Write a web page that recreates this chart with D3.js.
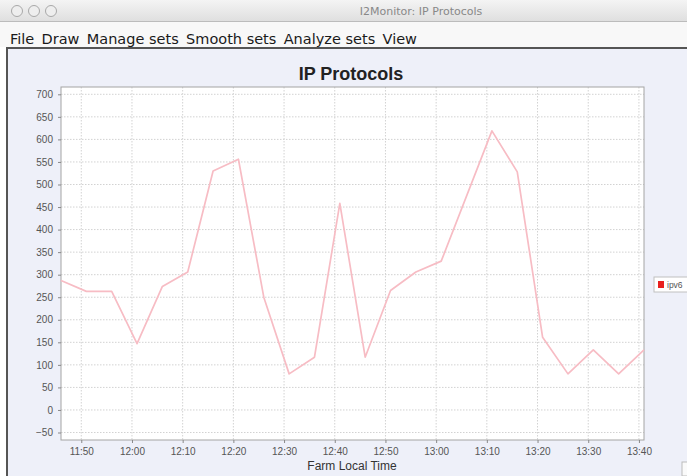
<!DOCTYPE html>
<html>
<head>
<meta charset="utf-8">
<script src="https://cdn.jsdelivr.net/npm/d3@7"></script>
<style>
  html, body { margin: 0; padding: 0; background: #fff; }
  svg { display: block; font-family: "Liberation Sans", Arial, sans-serif; }
</style>
</head>
<body>
<svg id="chart" width="687" height="476"></svg>
<script>
// ===== data =====
const times = ['11:46', '11:51', '11:56', '12:01', '12:06', '12:11', '12:16', '12:21',
  '12:26', '12:31', '12:36', '12:41', '12:46', '12:51', '12:56', '13:01',
  '13:11', '13:16', '13:21', '13:26', '13:31', '13:36', '13:41'];
const ipv6 = [287, 263, 263, 147, 274, 306, 530, 556,
  250, 80, 117, 458, 117, 265, 306, 330,
  619, 528, 161, 80, 133, 80, 133];
const yTicks = [-50, 0, 50, 100, 150, 200, 250, 300, 350, 400, 450, 500, 550, 600, 650, 700];
const xTickLabels = ['11:50', '12:00', '12:10', '12:20', '12:30', '12:40', '12:50',
  '13:00', '13:10', '13:20', '13:30', '13:40'];
const menuItems = ['File', 'Draw', 'Manage sets', 'Smooth sets', 'Analyze sets', 'View'];
const seriesNames = ['ipv6'];

const W = 687, H = 476;
const parse = d3.timeParse('%H:%M');
const points = times.map((t, i) => ({ t: parse(t), v: ipv6[i] }));

const svg = d3.select('#chart');

// --- window chrome ---
const defs = svg.append('defs');
const tg = defs.append('linearGradient').attr('id', 'titlebar').attr('x1', 0).attr('y1', 0).attr('x2', 0).attr('y2', 1);
tg.append('stop').attr('offset', '0%').attr('stop-color', '#f4f4f4');
tg.append('stop').attr('offset', '100%').attr('stop-color', '#dedede');

svg.append('rect').attr('width', W).attr('height', H).attr('fill', '#ffffff');
svg.append('rect').attr('width', W).attr('height', 22).attr('fill', 'url(#titlebar)');
svg.append('line').attr('x1', 0).attr('x2', W).attr('y1', 21.5).attr('y2', 21.5).attr('stroke', '#bcbcbc');
[17, 34, 51].forEach(cx => {
  svg.append('circle').attr('cx', cx).attr('cy', 11).attr('r', 5.5)
    .attr('fill', '#eeeeee').attr('stroke', '#a8a8a8');
});
svg.append('text').attr('x', 421).attr('y', 15).attr('text-anchor', 'middle')
  .attr('font-family', '"DejaVu Sans", sans-serif').attr('font-size', 11).attr('fill', '#888')
  .text('I2Monitor: IP Protocols');

// menu bar
svg.append('rect').attr('y', 22).attr('width', W).attr('height', 25).attr('fill', '#f8f8f8');
let mx = 10;
const menu = svg.append('g');
menuItems.forEach(item => {
  const t = menu.append('text').attr('x', mx).attr('y', 44)
    .attr('font-family', '"DejaVu Sans", sans-serif').attr('font-size', 14).attr('fill', '#1a1a1a')
    .text(item);
  mx += t.node().getComputedTextLength() + 7;
});
// squeeze the whole menu row to the reference width
const menuW = mx - 7 - 10;
menu.attr('transform', `translate(10,0) scale(${407 / menuW},1) translate(-10,0)`);

// chart panel
svg.append('rect').attr('x', 7).attr('y', 48).attr('width', W - 7).attr('height', H - 48).attr('fill', '#eef0f9');
svg.append('line').attr('x1', 6).attr('x2', W).attr('y1', 48).attr('y2', 48).attr('stroke', '#555').attr('stroke-width', 2);
svg.append('line').attr('x1', 7).attr('x2', 7).attr('y1', 48).attr('y2', H).attr('stroke', '#555').attr('stroke-width', 2);

// --- plot ---
const plot = { left: 61, top: 87, right: 644, bottom: 440 };

const x = d3.scaleTime()
  .domain(d3.extent(points, d => d.t))
  .range([plot.left, plot.right]);
const y = d3.scaleLinear()
  .domain([-50, 700])
  .range([432.5, 94.3]);

svg.append('rect')
  .attr('x', plot.left).attr('y', plot.top)
  .attr('width', plot.right - plot.left).attr('height', plot.bottom - plot.top)
  .attr('fill', '#ffffff');

const xTickDates = xTickLabels.map(parse);

// gridlines
svg.append('g').selectAll('line').data(yTicks).join('line')
  .attr('x1', plot.left).attr('x2', plot.right)
  .attr('y1', d => y(d)).attr('y2', d => y(d))
  .attr('stroke', '#d2d2d2').attr('stroke-width', 1).attr('stroke-dasharray', '1.5,1.5');
svg.append('g').selectAll('line').data(xTickDates).join('line')
  .attr('x1', d => x(d)).attr('x2', d => x(d))
  .attr('y1', plot.top).attr('y2', plot.bottom)
  .attr('stroke', '#d2d2d2').attr('stroke-width', 1).attr('stroke-dasharray', '1.5,1.5');

// plot border
svg.append('rect')
  .attr('x', plot.left).attr('y', plot.top)
  .attr('width', plot.right - plot.left).attr('height', plot.bottom - plot.top)
  .attr('fill', 'none').attr('stroke', '#a4a4a4');

// axes
const yAxis = svg.append('g')
  .attr('transform', `translate(${plot.left},0)`)
  .call(d3.axisLeft(y).tickValues(yTicks).tickSize(3).tickPadding(5));
const xAxis = svg.append('g')
  .attr('transform', `translate(0,${plot.bottom})`)
  .call(d3.axisBottom(x).tickValues(xTickDates).tickFormat(d3.timeFormat('%H:%M')).tickSize(3).tickPadding(5));

[yAxis, xAxis].forEach(g => {
  g.select('.domain').remove();
  g.selectAll('.tick line').attr('stroke', '#888');
  g.selectAll('.tick text')
    .attr('fill', '#555')
    .attr('font-size', 10)
    .attr('font-family', '"Liberation Sans", Arial, sans-serif');
});

// series line
const line = d3.line().x(d => x(d.t)).y(d => y(d.v));
svg.append('path')
  .datum(points)
  .attr('fill', 'none')
  .attr('stroke', '#f7bcc4')
  .attr('stroke-width', 1.7)
  .attr('stroke-linejoin', 'round')
  .attr('d', line);

// title + axis label
svg.append('text').attr('x', 351).attr('y', 80).attr('text-anchor', 'middle')
  .attr('font-size', 18).attr('font-weight', 'bold').attr('fill', '#222')
  .text('IP Protocols');
svg.append('text').attr('x', 352).attr('y', 470).attr('text-anchor', 'middle')
  .attr('font-size', 12).attr('fill', '#333')
  .text('Farm Local Time');

// legend (clipped at window edge)
const legend = svg.append('g').attr('transform', 'translate(654,277)');
legend.append('rect').attr('width', 40).attr('height', 15)
  .attr('fill', '#ffffff').attr('stroke', '#c0c0c0');
seriesNames.forEach((name, i) => {
  legend.append('rect').attr('x', 4).attr('y', 4 + i * 15).attr('width', 6).attr('height', 7).attr('fill', '#e8201e');
  legend.append('text').attr('x', 13).attr('y', 11 + i * 15)
    .attr('font-size', 8.5).attr('fill', '#555').text(name);
});

// small resize box at bottom right corner
svg.append('rect').attr('x', 682).attr('y', 462).attr('width', 10).attr('height', 14)
  .attr('fill', '#fafafa').attr('stroke', '#bbb');
</script>
</body>
</html>
